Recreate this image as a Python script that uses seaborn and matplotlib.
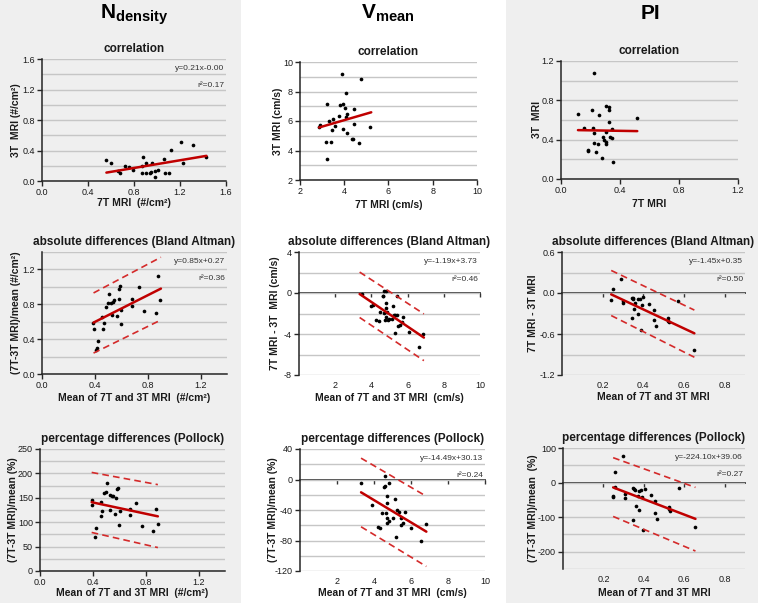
import matplotlib
matplotlib.use("Agg")
import matplotlib.pyplot as plt
import seaborn as sns
import pandas as pd
from matplotlib.patches import Rectangle
from matplotlib.ticker import FormatStrFormatter, MultipleLocator

# ---------------- data ----------------
column_titles = [r"$\mathbf{N}_{\mathbf{density}}$", r"$\mathbf{V}_{\mathbf{mean}}$", "PI"]
panel_titles = ["correlation", "absolute differences (Bland Altman)", "percentage differences (Pollock)"]

# Row 1: correlation
nd_corr_x = [0.56, 0.60, 0.66, 0.68, 0.72, 0.76, 0.79, 0.87, 0.88, 0.87, 0.90, 0.90, 0.94, 0.95, 0.96,
             0.98, 0.98, 1.01, 1.06, 1.07, 1.10, 1.12, 1.21, 1.23, 1.31, 1.43]
nd_corr_y = [0.27, 0.23, 0.13, 0.11, 0.20, 0.18, 0.14, 0.20, 0.31, 0.10, 0.10, 0.24, 0.11, 0.12, 0.23,
             0.13, 0.05, 0.15, 0.29, 0.10, 0.10, 0.41, 0.51, 0.23, 0.47, 0.32]
nd_corr_fit_x = [0.56, 1.43]
nd_corr_fit_y = [0.11, 0.33]

vm_corr_x = [3.88, 4.77, 4.06, 3.22, 3.81, 3.94, 4.03, 4.42, 4.12, 3.75, 4.08, 3.31, 3.49, 2.89, 2.86,
             3.60, 4.44, 3.45, 3.96, 5.18, 4.14, 3.19, 3.40, 4.33, 4.41, 4.68, 3.23]
vm_corr_y = [9.18, 8.82, 7.90, 7.16, 7.07, 7.14, 6.86, 6.82, 6.48, 6.35, 6.30, 6.03, 6.14, 5.74, 5.56,
             5.67, 5.78, 5.40, 5.47, 5.56, 5.22, 4.55, 4.57, 4.79, 4.77, 4.52, 3.42]
vm_corr_fit_x = [2.86, 5.22]
vm_corr_fit_y = [5.56, 6.59]

pi_corr_x = [0.226, 0.115, 0.208, 0.258, 0.307, 0.325, 0.325, 0.325, 0.517, 0.156, 0.215, 0.346, 0.226,
             0.307, 0.332, 0.346, 0.285, 0.294, 0.307, 0.307, 0.226, 0.249, 0.185, 0.185, 0.235, 0.276, 0.355]
pi_corr_y = [1.08, 0.66, 0.70, 0.65, 0.74, 0.73, 0.70, 0.58, 0.62, 0.52, 0.52, 0.51, 0.47,
             0.48, 0.43, 0.42, 0.43, 0.40, 0.38, 0.36, 0.37, 0.36, 0.29, 0.28, 0.27, 0.21, 0.17]
pi_corr_fit_x = [0.115, 0.517]
pi_corr_fit_y = [0.497, 0.487]

# Row 2: absolute differences (Bland Altman)
nd_ba_x = [0.879, 0.734, 0.591, 0.581, 0.507, 0.892, 0.680, 0.581, 0.545, 0.535, 0.522, 0.502, 0.481, 0.680,
           0.530, 0.568, 0.599, 0.772, 0.859, 0.456, 0.387, 0.469, 0.599, 0.390, 0.461, 0.420, 0.413, 0.408]
nd_ba_y = [1.12, 1.00, 1.01, 0.98, 0.92, 0.85, 0.86, 0.86, 0.85, 0.83, 0.82, 0.81, 0.77, 0.78,
           0.68, 0.67, 0.73, 0.72, 0.70, 0.65, 0.58, 0.58, 0.57, 0.52, 0.52, 0.38, 0.30, 0.28]
nd_ba_fit_x = [0.39, 0.90]
nd_ba_fit_y = [0.59, 0.98]
nd_ba_upper = [0.93, 1.34]
nd_ba_lower = [0.24, 0.62]

vm_ba_x = [3.47, 3.97, 4.08, 4.26, 4.43, 4.50, 4.62, 4.66, 4.71, 4.78, 4.71, 4.80, 4.80, 4.80, 4.86, 4.93,
           4.97, 4.77, 5.13, 5.26, 5.20, 5.31, 5.40, 5.44, 5.49, 5.60, 5.67, 5.76, 5.29, 6.05, 6.62, 6.87]
vm_ba_y = [-0.11, -1.26, -1.15, -2.62, -2.75, -1.87, -0.34, -0.27, 0.22, 0.15, -1.99, -1.47, -0.99, -2.39,
           -1.90, -2.68, -2.58, -2.64, -2.49, -2.13, -1.22, -2.16, -2.19, -0.27, -3.20, -3.17, -2.81, -2.33,
           -3.90, -3.80, -5.23, -3.96]
vm_ba_fit_x = [3.35, 6.90]
vm_ba_fit_y = [-0.10, -4.35]
vm_ba_upper = [2.04, -2.04]
vm_ba_lower = [-2.39, -6.60]

pi_ba_x = [0.292, 0.252, 0.242, 0.302, 0.302, 0.343, 0.348, 0.351, 0.373, 0.383, 0.400, 0.359, 0.373,
           0.353, 0.392, 0.430, 0.451, 0.343, 0.453, 0.463, 0.390, 0.519, 0.521, 0.524, 0.570, 0.651]
pi_ba_y = [0.20, 0.06, -0.10, -0.11, -0.14, -0.07, -0.08, -0.09, -0.09, -0.09, -0.06, -0.15, -0.30,
           -0.24, -0.17, -0.16, -0.25, -0.36, -0.39, -0.49, -0.54, -0.37, -0.41, -0.43, -0.11, -0.84]
pi_ba_fit_x = [0.242, 0.651]
pi_ba_fit_y = [-0.02, -0.59]
pi_ba_upper = [0.33, -0.25]
pi_ba_lower = [-0.33, -0.94]

# Row 3: percentage differences (Pollock)
nd_pc_x = [0.509, 0.590, 0.580, 0.499, 0.481, 0.532, 0.542, 0.555, 0.578, 0.393, 0.459, 0.729, 0.391, 0.681,
           0.877, 0.532, 0.602, 0.471, 0.565, 0.681, 0.461, 0.890, 0.600, 0.769, 0.426, 0.857, 0.413]
nd_pc_y = [180, 170, 169, 162, 160, 156, 154, 154, 149, 146, 141, 139, 135, 128,
           128, 126, 122, 122, 117, 115, 112, 96, 95, 93, 89, 81, 70]
nd_pc_fit_x = [0.391, 0.892]
nd_pc_fit_y = [141, 112]
nd_pc_upper = [202, 177]
nd_pc_lower = [79, 48]

vm_pc_x = [3.32, 4.61, 4.58, 4.56, 4.83, 4.72, 5.12, 4.72, 3.90, 4.45, 4.65, 5.27, 5.36, 5.65, 5.47, 5.05,
           4.69, 4.81, 4.70, 5.47, 5.58, 6.01, 6.83, 4.21, 4.34, 5.21, 6.55]
vm_pc_y = [-4.2, 4.2, -8.5, -9.4, -4.6, -21, -25, -31, -34, -43.5, -43.5, -40, -43, -42, -51, -50,
           -50, -54, -57, -60, -57, -64, -59, -62, -64, -75, -81]
vm_pc_fit_x = [3.30, 6.83]
vm_pc_fit_y = [-16.8, -68.4]
vm_pc_upper = [28, -22]
vm_pc_lower = [-62, -114]

pi_pc_x = [0.295, 0.257, 0.257, 0.248, 0.248, 0.306, 0.306, 0.345, 0.349, 0.354, 0.376, 0.384, 0.405, 0.393,
           0.359, 0.371, 0.376, 0.435, 0.456, 0.523, 0.523, 0.530, 0.456, 0.466, 0.345, 0.395, 0.574, 0.655]
pi_pc_y = [76, 30, -12, -37.5, -42, -34, -46, -17, -20, -22, -24, -22, -18, -43,
           -69, -38, -80, -37, -54, -71, -77, -81, -87, -106, -107, -137, -15, -129]
pi_pc_fit_x = [0.248, 0.655]
pi_pc_fit_y = [-14, -105]
pi_pc_upper = [72, -14]
pi_pc_lower = [-98, -198]

equations = {
    "nd_corr": ("y=0.21x-0.00", "r²=0.17"),
    "nd_ba": ("y=0.85x+0.27", "r²=0.36"),
    "vm_ba": ("y=-1.19x+3.73", "r²=0.46"),
    "pi_ba": ("y=-1.45x+0.35", "r²=0.50"),
    "vm_pc": ("y=-14.49x+30.13", "r²=0.24"),
    "pi_pc": ("y=-224.10x+39.06", "r²=0.27"),
}

# ---------------- style ----------------
sns.set_theme(style="white")
plt.rcParams["font.family"] = ["Liberation Sans", "DejaVu Sans"]
plt.rcParams["mathtext.fontset"] = "custom"
plt.rcParams["mathtext.rm"] = "Liberation Sans"
plt.rcParams["mathtext.bf"] = "Liberation Sans:bold"
plt.rcParams["mathtext.it"] = "Liberation Sans:italic"
plt.rcParams["axes.unicode_minus"] = False

W, H = 758, 603
fig = plt.figure(figsize=(W / 100, H / 100), dpi=100, facecolor="white")
fig.patches.append(Rectangle((0, 0), 241 / W, 1, transform=fig.transFigure,
                             facecolor="#efefef", edgecolor="none", zorder=-10))
fig.patches.append(Rectangle((506 / W, 0), (W - 506) / W, 1, transform=fig.transFigure,
                             facecolor="#efefef", edgecolor="none", zorder=-10))

SPINE = "#262626"
GRID = "#c6c6c6"
LINE_RED = "#c00000"
DASH_RED = "#d42a2a"
TICK_FS = 6.5


def rect(l, t, r, b):
    return [l / W, 1 - b / H, (r - l) / W, (b - t) / H]


panels = [
    dict(key="nd_corr", box=(42, 59, 226, 181), xlim=(0, 1.6), ylim=(0, 1.6), xt=[0, 0.4, 0.8, 1.2, 1.6],
         yt=[0, 0.4, 0.8, 1.2, 1.6], grid=0.2, xf="%.1f", yf="%.1f", zero=False, t=0,
         xl="7T MRI  (#/cm²)", yl="3T  MRI (#/cm²)", ylx=16, xly=203,
         x=nd_corr_x, y=nd_corr_y, fx=nd_corr_fit_x, fy=nd_corr_fit_y, up=None, lo=None),
    dict(key="vm_corr", box=(300, 62, 477, 180), xlim=(2, 10), ylim=(2, 10), xt=[2, 4, 6, 8, 10],
         yt=[2, 4, 6, 8, 10], grid=1, xf="%d", yf="%d", zero=False, t=0,
         xl="7T MRI (cm/s)", yl="3T MRI (cm/s)", ylx=278, xly=205,
         x=vm_corr_x, y=vm_corr_y, fx=vm_corr_fit_x, fy=vm_corr_fit_y, up=None, lo=None),
    dict(key="pi_corr", box=(561, 61, 738, 179), xlim=(0, 1.2), ylim=(0, 1.2), xt=[0, 0.4, 0.8, 1.2],
         yt=[0, 0.4, 0.8, 1.2], grid=0.2, xf="%.1f", yf="%.1f", zero=False, t=0,
         xl="7T MRI", yl="3T  MRI", ylx=537, xly=204,
         x=pi_corr_x, y=pi_corr_y, fx=pi_corr_fit_x, fy=pi_corr_fit_y, up=None, lo=None),
    dict(key="nd_ba", box=(42, 252, 227, 374), xlim=(0, 1.4), ylim=(0, 1.4), xt=[0, 0.4, 0.8, 1.2],
         yt=[0, 0.4, 0.8, 1.2], grid=0.2, xf="%.1f", yf="%.1f", zero=False, t=1,
         xl="Mean of 7T and 3T MRI  (#/cm²)", yl="(7T-3T MRI)/mean (#/cm²)", ylx=16, xly=398,
         x=nd_ba_x, y=nd_ba_y, fx=nd_ba_fit_x, fy=nd_ba_fit_y, up=nd_ba_upper, lo=nd_ba_lower),
    dict(key="vm_ba", box=(299, 252, 480, 375), xlim=(0, 10), ylim=(-8, 4), xt=[2, 4, 6, 8, 10],
         yt=[-8, -4, 0, 4], grid=2, xf="%d", yf="%d", zero=True, t=1,
         xl="Mean of 7T and 3T MRI  (cm/s)", yl="7T MRI - 3T  MRI (cm/s)", ylx=275, xly=398,
         x=vm_ba_x, y=vm_ba_y, fx=vm_ba_fit_x, fy=vm_ba_fit_y, up=vm_ba_upper, lo=vm_ba_lower),
    dict(key="pi_ba", box=(562, 252, 745, 375), xlim=(0, 0.9), ylim=(-1.2, 0.6), xt=[0.2, 0.4, 0.6, 0.8],
         yt=[-1.2, -0.6, 0, 0.6], grid=0.3, xf="%.1f", yf="%.1f", zero=True, t=1,
         xl="Mean of 7T and 3T MRI", yl="7T MRI - 3T MRI", ylx=533, xly=397,
         x=pi_ba_x, y=pi_ba_y, fx=pi_ba_fit_x, fy=pi_ba_fit_y, up=pi_ba_upper, lo=pi_ba_lower),
    dict(key="nd_pc", box=(40, 449, 225, 571), xlim=(0, 1.4), ylim=(0, 250), xt=[0, 0.4, 0.8, 1.2],
         yt=[0, 50, 100, 150, 200, 250], grid=25, xf="%.1f", yf="%d", zero=False, t=2,
         xl="Mean of 7T and 3T MRI  (#/cm²)", yl="(7T-3T MRI)/mean (%)", ylx=13, xly=593,
         x=nd_pc_x, y=nd_pc_y, fx=nd_pc_fit_x, fy=nd_pc_fit_y, up=nd_pc_upper, lo=nd_pc_lower),
    dict(key="vm_pc", box=(300, 449, 485, 571), xlim=(0, 10), ylim=(-120, 40), xt=[2, 4, 6, 8, 10],
         yt=[-120, -80, -40, 0, 40], grid=20, xf="%d", yf="%d", zero=True, t=2,
         xl="Mean of 7T and 3T MRI  (cm/s)", yl="(7T-3T MRI)/mean (%)", ylx=273, xly=593,
         x=vm_pc_x, y=vm_pc_y, fx=vm_pc_fit_x, fy=vm_pc_fit_y, up=vm_pc_upper, lo=vm_pc_lower),
    dict(key="pi_pc", box=(563, 448, 745, 569), xlim=(0, 0.9), ylim=(-250, 100), xt=[0.2, 0.4, 0.6, 0.8],
         yt=[-200, -100, 0, 100], grid=50, xf="%.1f", yf="%d", zero=True, t=2,
         xl="Mean of 7T and 3T MRI", yl="(7T-3T MRI)/mean  (%)", ylx=533, xly=593,
         x=pi_pc_x, y=pi_pc_y, fx=pi_pc_fit_x, fy=pi_pc_fit_y, up=pi_pc_upper, lo=pi_pc_lower),
]

for p in panels:
    l, t, r, b = p["box"]
    ax = fig.add_axes(rect(l, t, r, b))
    ax.set_facecolor("none")
    ax.set_xlim(*p["xlim"])
    ax.set_ylim(*p["ylim"])

    ax.yaxis.set_minor_locator(MultipleLocator(p["grid"]))
    ax.set_yticks(p["yt"])
    ax.grid(True, which="both", axis="y", color=GRID, linewidth=1.0, zorder=0)
    ax.grid(False, axis="x")
    ax.set_axisbelow(True)

    ax.set_xticks(p["xt"])
    ax.xaxis.set_major_formatter(FormatStrFormatter(p["xf"]))
    ax.yaxis.set_major_formatter(FormatStrFormatter(p["yf"]))

    for s in ["top", "right"]:
        ax.spines[s].set_visible(False)
    ax.spines["left"].set_color(SPINE)
    ax.spines["left"].set_linewidth(1.1)
    ax.tick_params(axis="y", which="major", direction="out", length=3.5, width=1.0, color=SPINE,
                   labelsize=TICK_FS, labelcolor="#1a1a1a", pad=1.5, left=True)
    ax.tick_params(axis="y", which="minor", length=0, left=False)

    if p["zero"]:
        ax.spines["bottom"].set_visible(False)
        ax.tick_params(axis="x", length=0, labelsize=TICK_FS, labelcolor="#1a1a1a", pad=4, bottom=True)
        y0, y1 = p["ylim"]
        sec = ax.secondary_xaxis((0 - y0) / (y1 - y0))
        sec.set_alignment("bottom")
        sec.set_ticks(p["xt"])
        sec.tick_params(axis="x", direction="out", length=3, width=1.0, color="#333333",
                        labelbottom=False, labeltop=False)
        sec.spines["bottom"].set_color("#333333")
        sec.spines["bottom"].set_linewidth(1.3)
    else:
        ax.spines["bottom"].set_color(SPINE)
        ax.spines["bottom"].set_linewidth(1.1)
        ax.tick_params(axis="x", direction="out", length=3.5, width=1.0, color=SPINE,
                       labelsize=TICK_FS, labelcolor="#1a1a1a", pad=1.5, bottom=True)

    df = pd.DataFrame({"x": p["x"], "y": p["y"]})
    sns.scatterplot(data=df, x="x", y="y", ax=ax, color="black", s=7, linewidth=0, zorder=4, legend=False)

    fit = pd.DataFrame({"x": p["fx"], "y": p["fy"]})
    sns.lineplot(data=fit, x="x", y="y", ax=ax, color=LINE_RED, linewidth=1.8, zorder=5,
                 estimator=None, sort=False)
    if p["up"] is not None:
        for lim in (p["up"], p["lo"]):
            d = pd.DataFrame({"x": p["fx"], "y": lim})
            sns.lineplot(data=d, x="x", y="y", ax=ax, color=DASH_RED, linewidth=1.2, zorder=5,
                         estimator=None, sort=False, linestyle=(0, (4, 2.5)))

    ax.set_xlabel(p["xl"], fontsize=7.5, fontweight="bold", color="#1a1a1a")
    ax.set_ylabel(p["yl"], fontsize=7.5, fontweight="bold", color="#1a1a1a")
    ax.xaxis.set_label_coords(0.5, (b - p["xly"]) / (b - t))
    ax.xaxis.label.set_verticalalignment("center")
    ax.yaxis.set_label_coords((p["ylx"] - l) / (r - l), 0.5)
    ax.yaxis.label.set_verticalalignment("center")

    ax.set_title(panel_titles[p["t"]], fontsize=8.5, fontweight="bold", color="#1a1a1a", pad=5)

    if p["key"] in equations:
        eq, r2 = equations[p["key"]]
        ax.text(0.99, 0.92, eq, transform=ax.transAxes, ha="right", va="center", fontsize=6, color="#333333")
        ax.text(0.99, 0.78, r2, transform=ax.transAxes, ha="right", va="center", fontsize=6, color="#333333")

# column headers
for cx, txt in zip([134, 388, 650], column_titles):
    fig.text(cx / W, 1 - 19 / H, txt, ha="center", va="baseline", fontsize=15, fontweight="bold",
             color="black")

fig.savefig("out.png", dpi=100, facecolor=fig.get_facecolor())
